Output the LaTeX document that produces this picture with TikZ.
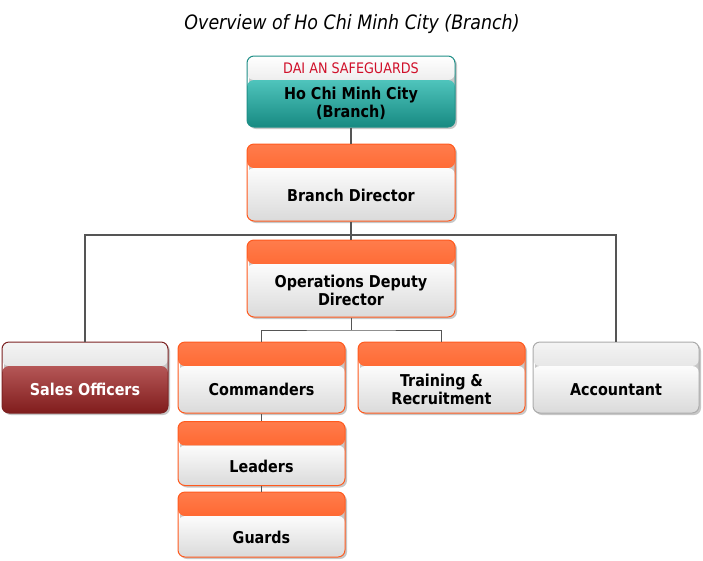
\documentclass[tikz,border=0pt]{standalone}
\usepackage{fontspec}
\newfontfamily\tah[FakeStretch=0.88]{DejaVu Sans}
\usetikzlibrary{shadows}
\definecolor{orTop}{HTML}{FF7C4C}
\definecolor{orMid}{HTML}{FF5A1C}
\definecolor{orBot}{HTML}{FF4806}
\definecolor{orBorder}{HTML}{FF5A1E}
\definecolor{bodyTop}{HTML}{FCFCFC}
\definecolor{bodyBot}{HTML}{DADADA}
\definecolor{tealTop}{HTML}{4FC4BC}
\definecolor{tealBot}{HTML}{178A82}
\definecolor{tealBorder}{HTML}{1F8F87}
\definecolor{grayTop}{HTML}{F4F4F4}
\definecolor{grayMid}{HTML}{E2E2E2}
\definecolor{grayBot}{HTML}{CCCCCC}
\definecolor{redTop}{HTML}{B55757}
\definecolor{redBot}{HTML}{801C1C}
\definecolor{redBorder}{HTML}{7C2222}
\definecolor{acBorder}{HTML}{ABABAB}
\definecolor{lineC}{HTML}{555555}
\definecolor{logoRed}{HTML}{D0102A}
\tikzset{
  orgbox/.style n args={6}{draw=#6, rounded corners=7pt, line width=1pt,
    inner sep=0pt,
    drop shadow={shadow xshift=2pt, shadow yshift=-2pt, fill=black, opacity=0.22},
    path picture={
      \shade[top color=#1, middle color=#2, bottom color=#3]
        (path picture bounding box.north west) rectangle
        ([yshift=-24pt]path picture bounding box.north east);
      \shade[top color=#4, bottom color=#5]
        ([yshift=-24pt]path picture bounding box.north west) rectangle
        (path picture bounding box.south east);
    }},
  obox/.style={orgbox={orTop}{orMid}{orBot}{bodyTop}{bodyBot}{orBorder}},
  tbox/.style={orgbox={white}{grayMid}{grayBot}{tealTop}{tealBot}{tealBorder}},
  sbox/.style={orgbox={grayTop}{grayMid}{grayBot}{redTop}{redBot}{redBorder}},
  abox/.style={orgbox={grayTop}{grayMid}{grayBot}{bodyTop}{bodyBot}{acBorder}},
  lbl/.style={font=\tah\bfseries\fontsize{16.3}{18}\selectfont, align=center, inner sep=0pt, text=black},
  conn/.style={draw=lineC, line width=1.6pt},
  conn2/.style={draw=lineC, line width=1pt},
}
\begin{document}
\begin{tikzpicture}[x=1pt, y=-1pt]
\useasboundingbox (0,0) rectangle (703,560);
\node[font=\tah\itshape\fontsize{19.8}{22}\selectfont, inner sep=0pt] (title) at (352,24) {Overview of Ho Chi Minh City (Branch)};

% boxes
\node[tbox, minimum width=208pt, minimum height=71pt] (top) at (351,91.5) {};
\node[obox, minimum width=208pt, minimum height=77pt] (bd) at (351,182.5) {};
\node[obox, minimum width=208pt, minimum height=77pt] (od) at (351,278.5) {};
\node[sbox, minimum width=166pt, minimum height=71pt] (so) at (85,377.5) {};
\node[obox, minimum width=167pt, minimum height=71pt] (cm) at (261.5,377.5) {};
\node[obox, minimum width=167pt, minimum height=71pt] (tr) at (441.5,377.5) {};
\node[abox, minimum width=166pt, minimum height=71pt] (ac) at (616,377.5) {};
\node[obox, minimum width=167pt, minimum height=64pt] (ld) at (261.5,453.5) {};
\node[obox, minimum width=167pt, minimum height=65pt] (gd) at (261.5,524.5) {};

% texts
\node[font=\tah\fontsize{14.5}{16}\selectfont, text=logoRed, inner sep=0pt] (topH) at ([yshift=23.5pt]top.center) {DAI AN SAFEGUARDS};
\node[lbl] (topT) at ([yshift=-12pt]top.center) {Ho Chi Minh City\\(Branch)};
\node[lbl] (bdT) at ([yshift=-13pt]bd.center) {Branch Director};
\node[lbl] (odT) at ([yshift=-12pt]od.center) {Operations Deputy\\Director};
\node[lbl, text=white] (soT) at ([yshift=-12pt]so.center) {Sales Officers};
\node[lbl] (cmT) at ([yshift=-12pt]cm.center) {Commanders};
\node[lbl] (trT) at ([yshift=-12pt]tr.center) {Training \&\\Recruitment};
\node[lbl] (acT) at ([yshift=-12pt]ac.center) {Accountant};
\node[lbl] (ldT) at ([yshift=-12.5pt]ld.center) {Leaders};
\node[lbl] (gdT) at ([yshift=-13pt]gd.center) {Guards};

% connectors
\coordinate (j1) at (351,235);
\coordinate (j2) at (351,330);
\draw[conn] (top.south) -- (bd.north);
\draw[conn] (bd.south) -- (j1) -- (od.north);
\draw[conn] (so.north) |- (j1) -| (ac.north);
\draw[conn2] (od.south) -- (j2);
\draw[conn2] (cm.north) |- (j2) -| (tr.north);
\draw[conn2] (cm.south) -- (ld.north);
\draw[conn2] (ld.south) -- (gd.north);
\end{tikzpicture}
\end{document}
